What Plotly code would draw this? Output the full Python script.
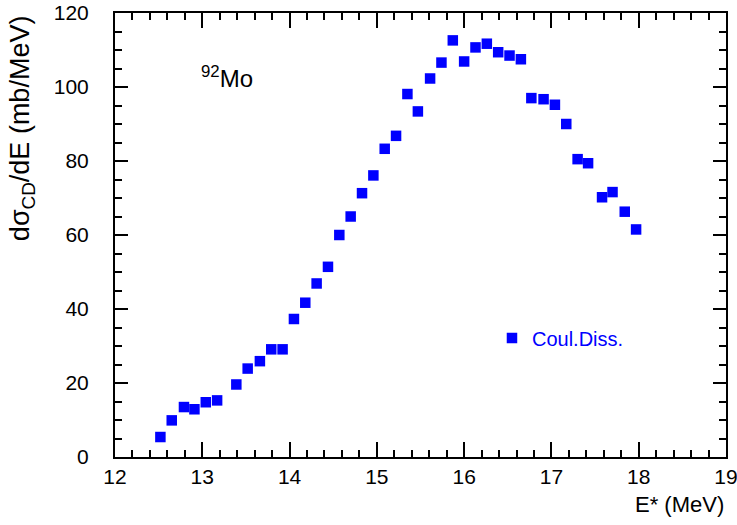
import plotly.graph_objects as go

# Data
energy_mev = [12.52, 12.65, 12.79, 12.91, 13.04, 13.17, 13.39, 13.52, 13.66, 13.79,
              13.92, 14.05, 14.18, 14.31, 14.44, 14.57, 14.70, 14.83, 14.96, 15.09,
              15.22, 15.35, 15.47, 15.61, 15.74, 15.87, 16.00, 16.13, 16.26, 16.39,
              16.52, 16.65, 16.77, 16.91, 17.04, 17.17, 17.30, 17.42, 17.58, 17.70,
              17.84, 17.97]
dsigma_de = [5.4, 9.9, 13.5, 12.9, 14.8, 15.3, 19.6, 23.9, 25.9, 29.1,
             29.1, 37.3, 41.7, 46.9, 51.4, 60.0, 65.0, 71.3, 76.1, 83.3,
             86.8, 98.1, 93.4, 102.3, 106.6, 112.6, 106.9, 110.7, 111.7, 109.4,
             108.5, 107.5, 97.0, 96.7, 95.2, 90.0, 80.5, 79.4, 70.2, 71.6,
             66.3, 61.5]

series_name = "Coul.Diss."
x_tick_start, x_tick_step = 12, 1
y_tick_start, y_tick_step = 0, 20

FONT = "Liberation Sans, Arial, Helvetica, sans-serif"

fig = go.Figure()
fig.add_trace(go.Scatter(
    x=energy_mev, y=dsigma_de, mode="markers", name=series_name,
    marker=dict(symbol="square", size=10.5, color="#0000ff", line=dict(width=0)),
    showlegend=True,
))

fig.update_xaxes(
    range=[12, 19], tickmode="linear", tick0=x_tick_start, dtick=x_tick_step,
    showgrid=False, zeroline=False, showline=True, linecolor="black", linewidth=2,
    mirror="ticks", ticks="inside", ticklen=15, tickwidth=2, tickcolor="black",
    automargin=False, ticklabeloverflow="allow",
    tickfont=dict(family=FONT, size=21, color="black"),
    minor=dict(dtick=0.2, ticks="inside", ticklen=7, tickwidth=1.5, tickcolor="black"),
)
fig.update_yaxes(
    range=[0, 120], tickmode="linear", tick0=y_tick_start, dtick=y_tick_step,
    showgrid=False, zeroline=False, showline=True, linecolor="black", linewidth=2,
    mirror="ticks", ticks="inside", ticklen=13, tickwidth=2, tickcolor="black",
    automargin=False, ticklabelstandoff=20, ticklabeloverflow="allow",
    tickfont=dict(family=FONT, size=21, color="black"),
    minor=dict(dtick=5, ticks="inside", ticklen=7, tickwidth=1.5, tickcolor="black"),
)

fig.add_annotation(
    xref="paper", yref="paper", x=-0.152, y=1.0, xanchor="center", yanchor="top",
    text="dσ<sub>CD</sub>/dE (mb/MeV)", textangle=-90, showarrow=False,
    font=dict(family=FONT, size=27, color="black"),
)
fig.add_annotation(
    xref="paper", yref="paper", x=1.0, y=-0.106, xanchor="right", yanchor="middle",
    text="E* (MeV)", showarrow=False,
    font=dict(family=FONT, size=22, color="black"),
)
fig.add_annotation(
    xref="paper", yref="paper", x=0.1835, y=0.856, xanchor="center", yanchor="middle",
    text="<sup>92</sup>Mo", showarrow=False,
    font=dict(family=FONT, size=24, color="black"),
)

fig.update_layout(
    width=737, height=525,
    margin=dict(l=115, r=11, t=13, b=68, autoexpand=False),
    paper_bgcolor="white", plot_bgcolor="white",
    legend=dict(
        x=0.617, y=0.268, xanchor="left", yanchor="middle",
        bgcolor="rgba(0,0,0,0)", borderwidth=0, itemwidth=30,
        font=dict(family=FONT, size=20, color="#0000ff"),
    ),
)

# Remove the browser's default 8 px body margin so the figure fills the window
fig.write_html("out.html", config={"displayModeBar": False},
               post_script="document.body.style.margin='0';")
